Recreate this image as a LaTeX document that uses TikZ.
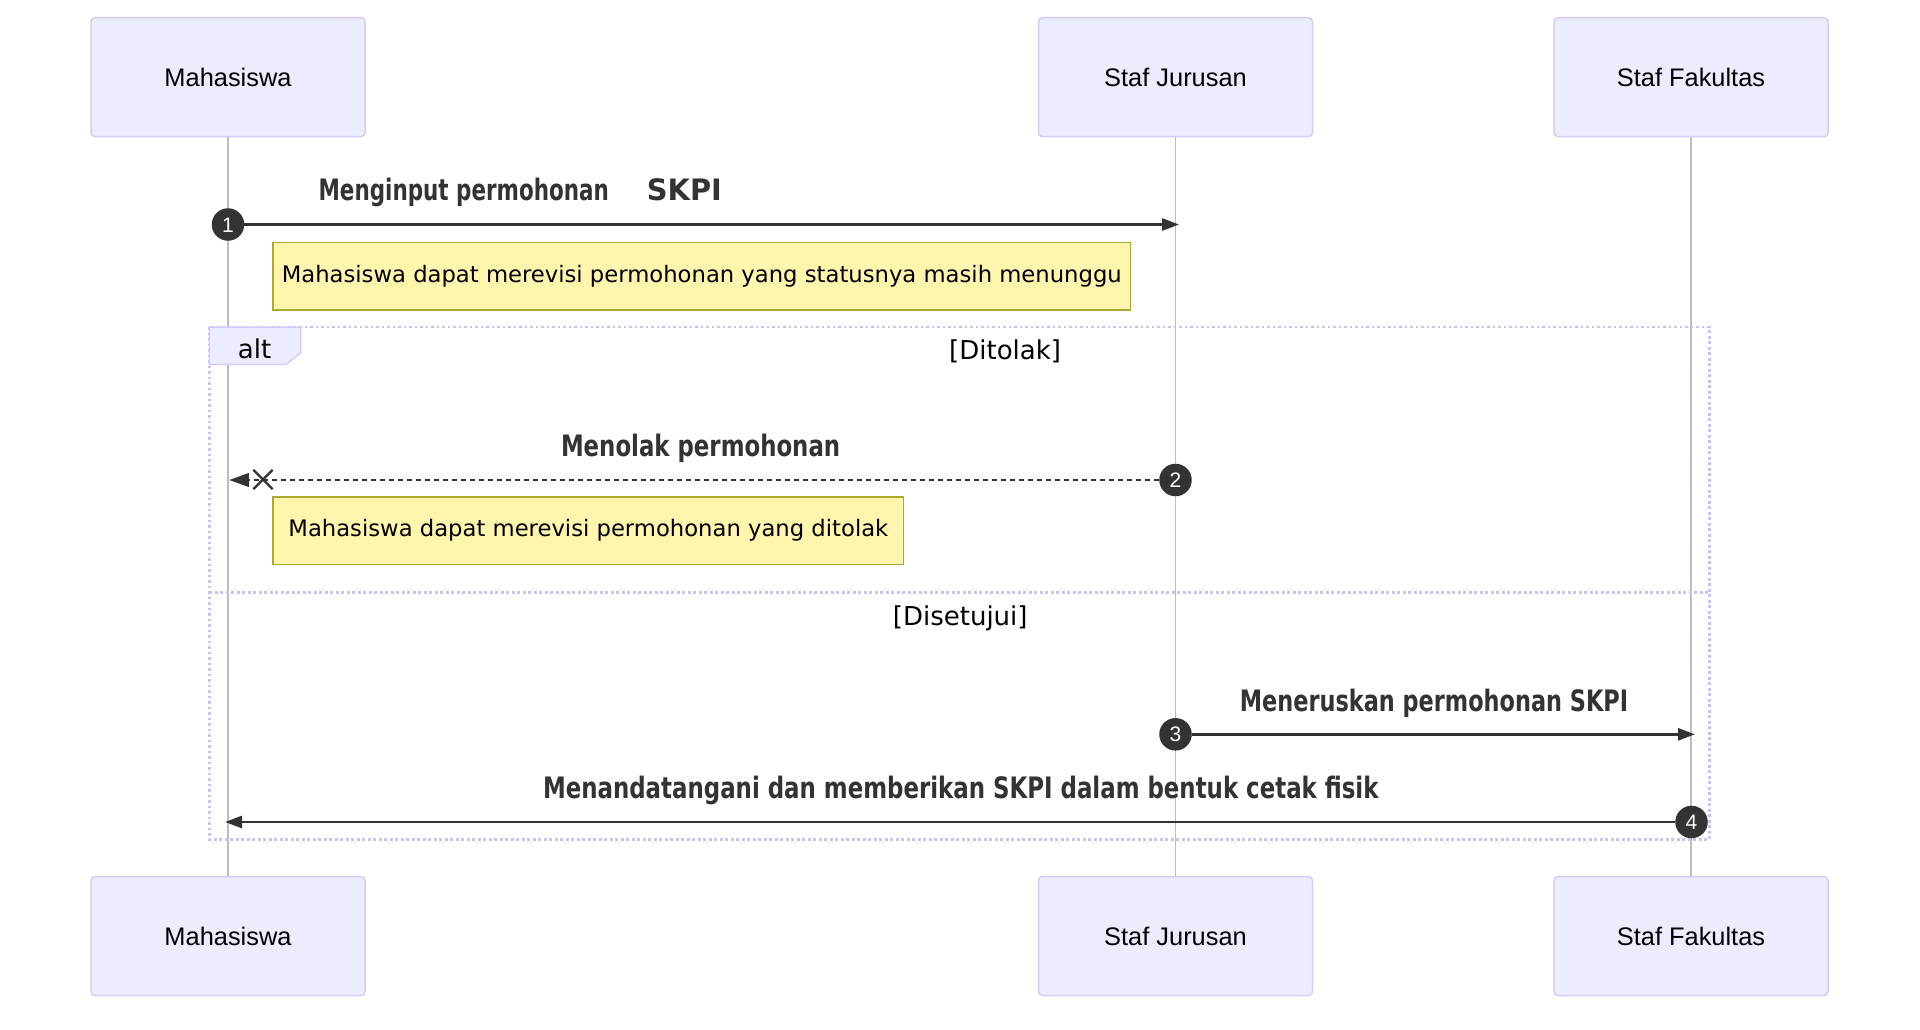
\documentclass[tikz,border=0pt]{standalone}
\usepackage{fontspec}
\usepackage{graphicx}
\setmainfont{DejaVu Sans}
\newfontfamily\arialf{Liberation Sans}
\newfontfamily\dvs{DejaVu Sans}
\usetikzlibrary{arrows.meta,shapes.misc}
\definecolor{actfill}{HTML}{ECECFF}
\definecolor{actborder}{HTML}{D6CBF4}
\definecolor{altcol}{HTML}{CDC1F3}
\definecolor{lifeline}{HTML}{BDBDBD}
\definecolor{sig}{HTML}{333333}
\definecolor{notefill}{HTML}{FFF5AD}
\definecolor{noteborder}{HTML}{AAAA33}
\newcommand\fitw[2]{\resizebox{#1}{\height}{#2}}
\tikzset{
  actorbox/.style={draw=actborder, fill=actfill, line width=1.5pt, rounded corners=4pt,
    minimum width=274pt, minimum height=119pt, inner sep=0pt,
    font=\arialf\fontsize{25.4}{30}\selectfont, text height=18.2pt, text depth=0pt},
  lifeln/.style={draw=lifeline, line width=1.4pt},
  seqnum/.style={circle, fill=sig, minimum size=32.5pt, inner sep=0pt, text=white,
    font=\arialf\fontsize{21}{24}\selectfont, text height=15pt, text depth=0pt},
  msg/.style={draw=sig, line width=2.6pt, -{Triangle[length=17pt,width=12pt]}},
  msgdash/.style={draw=sig, line width=2.2pt, dash pattern=on 5pt off 4pt,
    -{Triangle[length=19.5pt,width=13.5pt]}},
  msglabel/.style={anchor=base west, inner sep=0pt, text=sig,
    font=\dvs\bfseries\fontsize{29.5}{32}\selectfont},
  notebox/.style={draw=noteborder, fill=notefill, line width=1.5pt, inner sep=0pt,
    font=\dvs\fontsize{22.7}{26}\selectfont, text height=17pt, text depth=5pt},
  altline/.style={draw=altcol, line width=2.7pt, dash pattern=on 2.7pt off 2.8pt},
  altlabel/.style={anchor=base west, inner sep=0pt, font=\dvs\fontsize{26}{30}\selectfont},
  crossmark/.style={cross out, draw=sig, line width=2.3pt, minimum size=17pt, inner sep=0pt}
}
\begin{document}
\begin{tikzpicture}[x=1pt,y=-1pt]
\useasboundingbox (0,0) rectangle (1920,1029);
\fill[white] (0,0) rectangle (1920,1029);

% actors
\node[actorbox] (mT) at (228,77.2) {Mahasiswa};
\node[actorbox] (jT) at (1175.5,77.2) {Staf Jurusan};
\node[actorbox] (fT) at (1691,77.2) {Staf Fakultas};
\node[actorbox] (mB) at (228,936) {Mahasiswa};
\node[actorbox] (jB) at (1175.5,936) {Staf Jurusan};
\node[actorbox] (fB) at (1691,936) {Staf Fakultas};

% lifelines
\draw[lifeln] (mT.south) -- (mB.north);
\draw[lifeln] (jT.south) -- (jB.north);
\draw[lifeln] (fT.south) -- (fB.north);

% alt frame
\draw[altline] (209.4,327) rectangle (1709.4,839.5);
\coordinate (sepL) at (209.4,592.7);
\coordinate (sepR) at (1709.4,592.7);
\draw[altline] (sepL) -- (sepR);
\draw[draw=actborder, fill=actfill, line width=1.5pt]
  (209.4,327) -- (300.7,327) -- (300.7,352.7) -- (286,364.3) -- (209.4,364.3) -- cycle;
\node[altlabel] (altt) at (237.7,358) {alt};
\node[altlabel] (ditolak) at (949,359.5) {[Ditolak]};
\node[altlabel] (disetujui) at (892.7,625.2) {[Disetujui]};

% notes
\node[notebox, minimum width=857.5pt, minimum height=67.5pt] (n1) at (701.75,276.25)
  {Mahasiswa dapat merevisi permohonan yang statusnya masih menunggu};
\node[notebox, minimum width=630.7pt, minimum height=67.3pt] (n2) at (588.35,530.85)
  {Mahasiswa dapat merevisi permohonan yang ditolak};

% message 1
\node[seqnum] (c1) at (228,224.5) {1};
\coordinate (e1) at (1179,224.5);
\draw[msg] (c1) -- (e1);
\node[msglabel] (l1) at (318.4,200.5) {\fitw{290.2pt}{Menginput permohonan}};
\node[msglabel] (l1b) at (646.7,200.5) {\fitw{75pt}{SKPI}};

% message 2
\node[seqnum] (c2) at (1175.5,480) {2};
\coordinate (e2) at (229.3,480);
\draw[msgdash] (c2) -- (e2);
\node[crossmark] (x2) at (263,479.5) {};
\node[msglabel] (l2) at (560.8,456.7) {\fitw{279.2pt}{Menolak permohonan}};

% message 3
\node[seqnum] (c3) at (1175.5,734.3) {3};
\coordinate (e3) at (1695,734.3);
\draw[msg] (c3) -- (e3);
\node[msglabel] (l3) at (1239.7,711.5) {\fitw{388.3pt}{Meneruskan permohonan SKPI}};

% message 4
\node[seqnum] (c4) at (1691.5,822) {4};
\coordinate (e4) at (225,822);
\draw[msg] (c4) -- (e4);
\node[msglabel] (l4) at (542.8,798.5) {\fitw{835.5pt}{Menandatangani dan memberikan SKPI dalam bentuk cetak fisik}};
\end{tikzpicture}
\end{document}
